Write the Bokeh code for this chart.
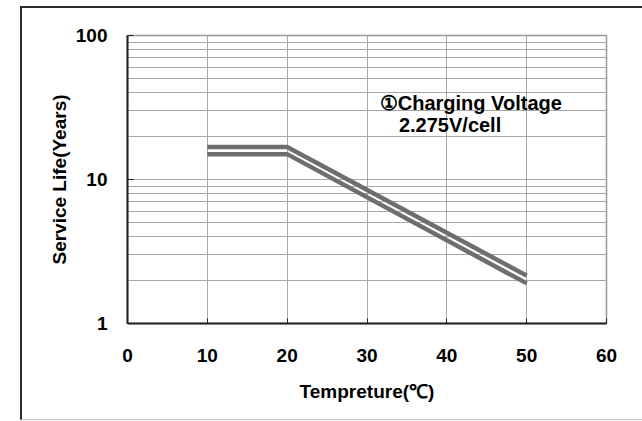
from bokeh.plotting import figure
from bokeh.layouts import column
from bokeh.models import FixedTicker, NumeralTickFormatter, Label, Range1d
from bokeh.embed import file_html
from bokeh.resources import INLINE

# ---- data ----
temps = [10, 20, 50]
life_upper = [16.8, 16.8, 2.15]
life_lower = [15.0, 15.0, 1.9]
x_ticks = [0, 10, 20, 30, 40, 50, 60]
y_ticks = [1, 10, 100]
y_minor = [2, 3, 4, 5, 6, 7, 8, 9, 20, 30, 40, 50, 60, 70, 80, 90]
note_line1 = "①Charging Voltage"
note_line2 = "2.275V/cell"
x_title = "Tempreture(℃)"
y_title = "Service Life(Years)"

FONT = "Liberation Sans"
DARK = "#222222"
GRID = "#a8a8a8"
LINE = "#6e6e6e"

p = figure(width=620, height=411, y_axis_type="log",
           x_range=Range1d(0, 60), y_range=Range1d(1, 100),
           output_backend="svg", toolbar_location=None,
           min_border_left=105, min_border_right=36,
           min_border_top=27, min_border_bottom=96)

p.background_fill_color = "white"
p.outline_line_color = "#999999"
p.outline_line_width = 1.5

# grids
p.xgrid.ticker = FixedTicker(ticks=x_ticks)
p.xgrid.grid_line_color = GRID
p.xgrid.grid_line_width = 1
p.ygrid.ticker = FixedTicker(ticks=y_ticks, minor_ticks=y_minor)
p.ygrid.grid_line_color = GRID
p.ygrid.minor_grid_line_color = GRID
p.ygrid.minor_grid_line_width = 1

# x axis
xa = p.xaxis[0]
xa.ticker = FixedTicker(ticks=x_ticks)
xa.axis_line_color = DARK
xa.axis_line_width = 2
xa.major_tick_in = 5
xa.major_tick_out = 0
xa.major_tick_line_color = DARK
xa.minor_tick_line_color = None
xa.major_label_text_font = FONT
xa.major_label_text_font_style = "bold"
xa.major_label_text_font_size = "19px"
xa.major_label_text_color = "black"
xa.major_label_standoff = 25
xa.axis_label = x_title
xa.axis_label_text_font = FONT
xa.axis_label_text_font_style = "bold"
xa.axis_label_text_font_size = "19px"
xa.axis_label_text_color = "black"
xa.axis_label_standoff = 16

# y axis
ya = p.yaxis[0]
ya.ticker = FixedTicker(ticks=y_ticks, minor_ticks=y_minor)
ya.formatter = NumeralTickFormatter(format="0")
ya.axis_line_color = DARK
ya.axis_line_width = 2
ya.major_tick_in = 6
ya.major_tick_out = 0
ya.major_tick_line_color = DARK
ya.minor_tick_line_color = None
ya.major_label_text_font = FONT
ya.major_label_text_font_style = "bold"
ya.major_label_text_font_size = "19px"
ya.major_label_text_color = "black"
ya.major_label_standoff = 16
ya.axis_label = y_title
ya.axis_label_text_font = FONT
ya.axis_label_text_font_style = "bold"
ya.axis_label_text_font_size = "19px"
ya.axis_label_text_color = "black"
ya.axis_label_standoff = 3

# lines
p.line(temps, life_upper, line_width=4.5, line_color=LINE)
p.line(temps, life_lower, line_width=4.5, line_color=LINE)

# annotation
p.add_layout(Label(x=31.6, y=34.0, text=note_line1, text_font=FONT,
                   text_font_style="bold", text_font_size="20px",
                   text_color="black", text_baseline="alphabetic"))
p.add_layout(Label(x=34.0, y=23.9, text=note_line2, text_font=FONT,
                   text_font_style="bold", text_font_size="20px",
                   text_color="black", text_baseline="alphabetic"))

layout = column(p, styles={"border-left": "2px solid #2a2a2a",
                           "border-top": "2px solid #2a2a2a",
                           "border-bottom": "1px solid #c4c4c4",
                           "margin-left": "20px", "margin-top": "6px"})

open("out.html", "w").write(file_html(layout, INLINE))
